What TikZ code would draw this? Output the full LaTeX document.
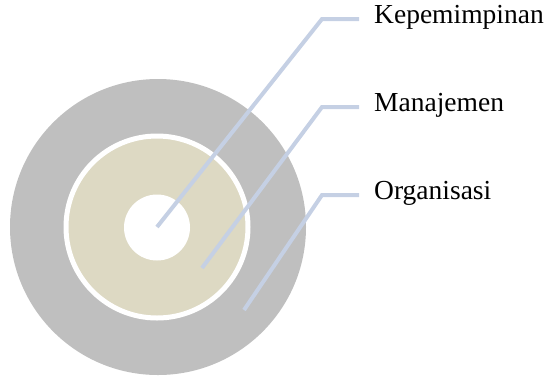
\documentclass[tikz,border=0pt]{standalone}
\usepackage{fontspec}
\setmainfont{Liberation Serif}
\usepackage{tikz}
\usepackage{xcolor}
\usetikzlibrary{positioning}
\definecolor{ringgray}{RGB}{191,191,191}
\definecolor{mgmtbeige}{RGB}{221,217,195}
\definecolor{leaderblue}{RGB}{197,208,228}

\begin{document}
\begin{tikzpicture}[x=1pt, y=-1pt]
\useasboundingbox (0,0) rectangle (548,376);
% concentric rings
\node[circle, fill=ringgray, minimum size=296pt, inner sep=0pt] (org) at (158,227) {};
\node[circle, fill=mgmtbeige, draw=white, line width=5pt, minimum size=182pt, inner sep=0pt] (mgmt) at (157,227) {};
\node[circle, fill=white, minimum size=66pt, inner sep=0pt] (lead) at (157,227.5) {};
% labels with leaders
\foreach \nm/\tx/\ty/\by/\lbl in {lead/157/227/19/Kepemimpinan, mgmt/202/268/107/Manajemen, org/244/310/195/Organisasi} {
    \coordinate (\nm tip) at (\tx,\ty);
    \coordinate (\nm bend) at (322,\by);
    \node[anchor=west, inner xsep=15pt, inner ysep=0pt, text height=2ex, text depth=0pt, font=\fontsize{27.5}{30}\selectfont] (\nm label) at (359,\by) {\lbl};
    \draw[leaderblue, line width=4pt] (\nm tip) -- (\nm bend) -- (\nm label.west);
}
\end{tikzpicture}
\end{document}
